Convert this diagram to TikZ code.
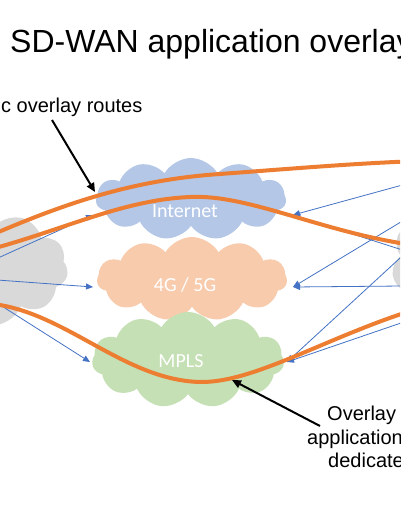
\documentclass[tikz,border=0pt]{standalone}
\usepackage{fontspec}
\setmainfont{Liberation Sans}
\newfontfamily\calibfont{Carlito}
\usetikzlibrary{shapes.symbols,arrows.meta}
\definecolor{inetblue}{HTML}{B4C7E7}
\definecolor{mobpeach}{HTML}{F8CBAD}
\definecolor{mplsgreen}{HTML}{C5E0B4}
\definecolor{sitegray}{HTML}{D9D9D9}
\definecolor{routeorange}{HTML}{ED7D31}
\definecolor{feedblue}{HTML}{4472C4}
\begin{document}
\begin{tikzpicture}[x=1pt,y=-1pt,
  cloudbase/.style={cloud, cloud puffs=11, cloud puff arc=120, cloud ignores aspect, inner sep=0pt, draw=none},
  cloudlabel/.style={font=\calibfont\fontsize{20}{24}\selectfont, text=white, anchor=base, inner sep=0pt},
  route/.style={draw=routeorange, line width=4pt},
  feed/.style={draw=feedblue, line width=0.8pt, -{Triangle[length=7pt,width=6pt]}},
  callout/.style={draw=black, line width=2pt, -{Triangle[length=9pt,width=8pt]}},
  note/.style={font=\fontsize{20}{24}\selectfont, inner sep=0pt, anchor=base west}]
\useasboundingbox (0,0) rectangle (400,516);
\fill[white] (0,0) rectangle (400,516);
\clip (0,0) rectangle (400,516);

% title
\node[font=\fontsize{32}{38}\selectfont, inner sep=0pt, anchor=base west] (title) at (10,53) {SD-WAN application overlay};

% clouds
\node[cloudbase, fill=sitegray, minimum width=196pt, minimum height=118pt] (siteL) at (-30,268) {};
\node[cloudbase, fill=sitegray, minimum width=126pt, minimum height=140pt] (siteR) at (455,265) {};
\node[cloudbase, fill=inetblue, minimum width=190pt, minimum height=82pt] (inet) at (191,199) {};
\node[cloudbase, fill=mobpeach, minimum width=190pt, minimum height=84pt] (mob) at (192,279) {};
\node[cloudbase, fill=mplsgreen, minimum width=192pt, minimum height=96pt] (mpls) at (188,360) {};

\node[cloudlabel] (inetlbl) at (185,217.5) {Internet};
\node[cloudlabel] (moblbl) at (185,291) {4G / 5G};
\node[cloudlabel] (mplslbl) at (181,367.5) {MPLS};

% feed coordinates
\coordinate (srcL) at (-44,277);
\coordinate (srcRU) at (512,155);
\coordinate (srcRL) at (512,285);
\coordinate (inetW) at (93,215);
\coordinate (mobW) at (93,287);
\coordinate (mplsW) at (90,362);
\coordinate (inetE) at (293,215);
\coordinate (mobE) at (293,287);
\coordinate (mplsE) at (287,362);

\draw[feed] (srcL) -- (inetW);
\draw[feed] (srcL) -- (mobW);
\draw[feed] (srcL) -- (mplsW);
\draw[feed] (srcRU) -- (inetE);
\draw[feed] (srcRL) -- (inetE);
\draw[feed] (srcRU) -- (mobE);
\draw[feed] (srcRL) -- (mobE);
\draw[feed] (srcRU) -- (mplsE);
\draw[feed] (srcRL) -- (mplsE);

% overlay routes
\coordinate (r1a) at (-20,240);
\coordinate (r1b) at (420,161);
\coordinate (r2a) at (-20,252);
\coordinate (r2b) at (420,246);
\coordinate (r3a) at (-20,303);
\coordinate (r3b) at (420,308);
\draw[route] (r1a) .. controls (60,205) and (130,180) .. (220,174) .. controls (300,168) and (360,163) .. (r1b);
\draw[route] (r2a) .. controls (60,232) and (120,200) .. (190,197) .. controls (250,194) and (325,234) .. (r2b);
\draw[route] (r3a) .. controls (60,305) and (120,380) .. (200,382) .. controls (255,383) and (330,335) .. (r3b);

% callouts
\node[note] (dyn) at (1,113) {c overlay routes};
\node[note] (ov1) at (327,420.5) {Overlay};
\node[note] (ov2) at (307,444) {application};
\node[note] (ov3) at (328,467.5) {dedicate};

\coordinate (dynfrom) at (52,120);
\coordinate (dynto) at (95,192);
\coordinate (ovfrom) at (320,426);
\coordinate (ovto) at (232,380);
\draw[callout] (dynfrom) -- (dynto);
\draw[callout] (ovfrom) -- (ovto);
\end{tikzpicture}
\end{document}
